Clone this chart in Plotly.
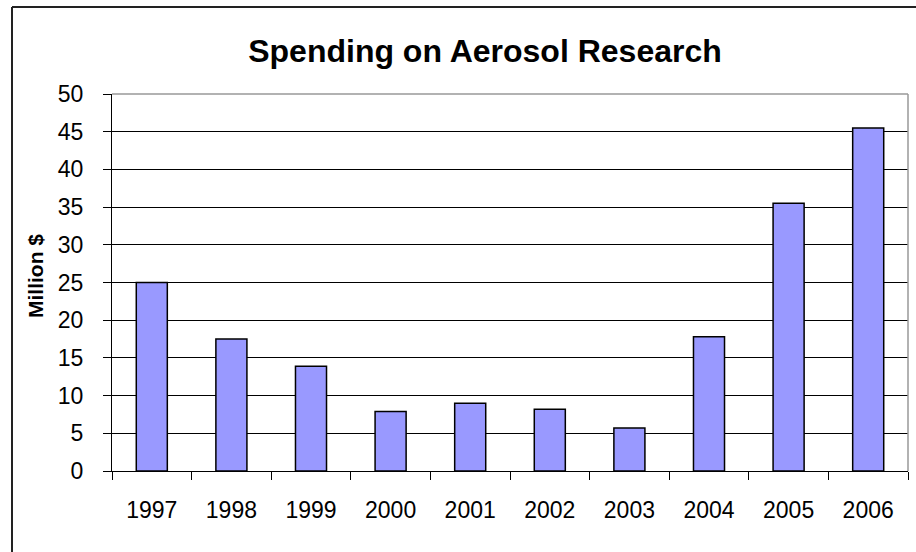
import plotly.graph_objects as go

years = ["1997", "1998", "1999", "2000", "2001", "2002", "2003", "2004", "2005", "2006"]
spending = [25.0, 17.5, 13.9, 7.9, 9.0, 8.2, 5.7, 17.8, 35.5, 45.5]
y_ticks = [0, 5, 10, 15, 20, 25, 30, 35, 40, 45, 50]

W, H = 916, 552
L, R, T, B = 112, 8, 94, 81
pw, ph = W - L - R, H - T - B

def px_x(x):
    return (x - L) / pw

def px_y(y):
    return (H - B - y) / ph

fig = go.Figure()
fig.add_trace(go.Bar(
    x=years, y=spending, width=0.39,
    marker=dict(color="#9999FF", line=dict(color="#000000", width=1.5)),
))

font = "Liberation Sans, Arial, sans-serif"
fig.update_layout(
    width=W, height=H,
    margin=dict(l=L, r=R, t=T, b=B, pad=0),
    paper_bgcolor="white", plot_bgcolor="white",
    showlegend=False,
    title=dict(text="<b>Spending on Aerosol Research</b>", x=485 / W, xanchor="center",
               y=1 - 51 / H, yanchor="middle",
               font=dict(family=font, size=32, color="black")),
    xaxis=dict(type="category", tickson="boundaries", ticks="outside", ticklen=8,
               tickwidth=1, tickcolor="black", showline=True, linecolor="black", linewidth=1,
               showgrid=False, tickfont=dict(family=font, size=23, color="black"),
               ticklabelstandoff=18),
    yaxis=dict(range=[0, 50], tickvals=y_ticks, ticks="outside", ticklen=8, tickwidth=1,
               tickcolor="black", showline=True, linecolor="black", linewidth=1,
               showgrid=True, gridcolor="black", gridwidth=1, zeroline=False,
               tickfont=dict(family=font, size=23, color="black"), ticklabelstandoff=15),
    annotations=[dict(text="<b>Million $</b>", textangle=-90, x=px_x(35), y=px_y(276),
                      xref="paper", yref="paper", xanchor="center", yanchor="middle",
                      showarrow=False,
                      font=dict(family=font, size=21, color="black"))],
    shapes=[
        # plot-area top/right border (grey)
        dict(type="line", xref="paper", yref="paper", x0=0, x1=1, y0=1, y1=1,
             line=dict(color="#999999", width=1.5), layer="above"),
        dict(type="line", xref="paper", yref="paper", x0=1, x1=1, y0=0, y1=1,
             line=dict(color="#999999", width=1.5), layer="above"),
        # outer chart border (left and top)
        dict(type="line", xref="paper", yref="paper", x0=px_x(12), x1=px_x(12),
             y0=px_y(7), y1=px_y(560), line=dict(color="#222222", width=2)),
        dict(type="line", xref="paper", yref="paper", x0=px_x(12), x1=px_x(930),
             y0=px_y(7), y1=px_y(7), line=dict(color="#222222", width=2)),
    ],
)

fig.write_html("out.html")
